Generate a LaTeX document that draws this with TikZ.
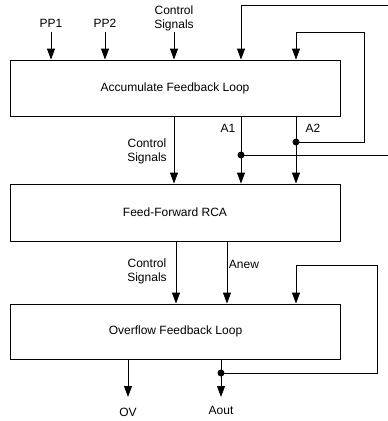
\documentclass[tikz,border=0pt]{standalone}
\usepackage{fontspec}
\setmainfont{Liberation Sans}
\usetikzlibrary{arrows.meta}
\begin{document}
\begin{tikzpicture}[x=1pt,y=-1pt,
  font=\fontsize{12}{14}\selectfont,
  box/.style={draw,line width=0.8pt,minimum width=330pt,inner sep=0pt},
  wire/.style={line width=0.8pt},
  arr/.style={wire,-{Triangle[width=8pt,length=11pt]}},
  lbl/.style={inner sep=0pt,align=center},
  dot/.style={circle,fill,inner sep=0pt,minimum size=7pt}]
\useasboundingbox (0,0) rectangle (388,421);
% boxes
\node[box,minimum height=56pt] (b1) at (175,88) {Accumulate Feedback Loop};
\node[box,minimum height=57pt] (b2) at (175,212.5) {Feed-Forward RCA};
\node[box,minimum height=55pt] (b3) at (175.5,331.5) {Overflow Feedback Loop};
% top inputs
\node[lbl] (lpp1) at (51,23) {PP1};
\node[lbl] (lpp2) at (105,23) {PP2};
\node[lbl] (lcs1) at (174,18) {Control\\Signals};
\coordinate (s1) at (51,32);
\coordinate (s2) at (105,32);
\coordinate (s3) at (174,32);
\draw[arr] (s1) -- (s1 |- b1.north);
\draw[arr] (s2) -- (s2 |- b1.north);
\draw[arr] (s3) -- (s3 |- b1.north);
% box1 -> box2
\coordinate (c1) at (174,0);
\coordinate (xa1) at (241,0);
\coordinate (xa2) at (296,0);
\draw[arr] (c1 |- b1.south) -- (c1 |- b2.north);
\draw[arr] (xa1 |- b1.south) -- (xa1 |- b2.north);
\draw[arr] (xa2 |- b1.south) -- (xa2 |- b2.north);
\node[lbl] (lcs2) at (147,151) {Control\\Signals};
\node[lbl] (la1) at (228,128) {A1};
\node[lbl] (la2) at (313,128) {A2};
\node[dot] (j1) at (241,155) {};
\node[dot] (j2) at (296,142) {};
% feedback loops around box1
\coordinate (e1) at (388,155);
\coordinate (e2) at (388,5);
\draw[wire] (j1.center) -- (e1);
\draw[arr] (e2) -- (241,5) -- (xa1 |- b1.north);
\draw[arr] (j2.center) -- (364,142) -- (364,32) -- (296,32) -- (xa2 |- b1.north);
% box2 -> box3
\coordinate (c2) at (176,0);
\coordinate (xan) at (227,0);
\draw[arr] (c2 |- b2.south) -- (c2 |- b3.north);
\draw[arr] (xan |- b2.south) -- (xan |- b3.north);
\node[lbl] (lcs3) at (147,271.5) {Control\\Signals};
\node[lbl] (lanew) at (244,264) {Anew};
% box3 feedback
\node[dot] (j3) at (221,373) {};
\coordinate (xf) at (296,0);
\draw[arr] (j3.center) -- (377,373) -- (377,265) -- (296,265) -- (xf |- b3.north);
% outputs
\coordinate (xov) at (128,0);
\coordinate (xao) at (221,0);
\coordinate (tov) at (128,397);
\coordinate (tao) at (221,397);
\draw[arr] (xov |- b3.south) -- (tov);
\draw[arr] (xao |- b3.south) -- (tao);
\node[lbl] (lov) at (128,412) {OV};
\node[lbl] (lao) at (221,410) {Aout};
\end{tikzpicture}
\end{document}
